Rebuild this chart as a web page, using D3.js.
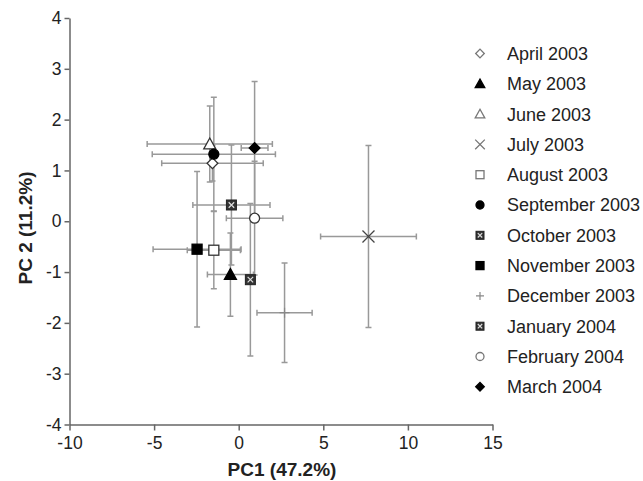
<!DOCTYPE html>
<html>
<head>
<meta charset="utf-8">
<script src="https://cdn.jsdelivr.net/npm/d3@7"></script>
<style>
  body { margin: 0; background: #fff; }
  svg { font-family: "Liberation Sans", Arial, sans-serif; }
</style>
</head>
<body>
<div id="chart"></div>
<script>
// sampling months and PCA scores (mean +/- error)
const months = ["April 2003", "May 2003", "June 2003", "July 2003", "August 2003", "September 2003",
                "October 2003", "November 2003", "December 2003", "January 2004", "February 2004", "March 2004"]
const pc1 = [-1.55, -0.49, -1.71, 7.67, -1.47, -1.47, -0.43, -2.46, 2.71, 0.69, 0.94, 0.94]
const pc2 = [1.14, -1.05, 1.52, -0.30, -0.57, 1.32, 0.32, -0.55, -1.80, -1.15, 0.06, 1.44]
const pc1Err = [3.0, 1.36, 3.7, 2.83, 1.57, 3.64, 2.28, 2.6, 1.63, 0.25, 1.67, 0.79]
const pc2Err = [0.35, 0.82, 0.75, 1.79, 0.76, 1.12, 1.18, 1.53, 0.98, 1.5, 1.12, 1.31]
const xTicks = [-10, -5, 0, 5, 10, 15]
const yTicks = [-4, -3, -2, -1, 0, 1, 2, 3, 4]

const data = months.map((m, i) => ({month: m, x: pc1[i], y: pc2[i], ex: pc1Err[i], ey: pc2Err[i]}))

// marker look for every month
const markers = {
  "April 2003": {shape: "diamond", fill: "#fff"},
  "May 2003": {shape: "triangle", fill: "#000"},
  "June 2003": {shape: "triangle", fill: "#fff"},
  "July 2003": {shape: "times"},
  "August 2003": {shape: "square", fill: "#fff"},
  "September 2003": {shape: "circle", fill: "#000"},
  "October 2003": {shape: "xsquare"},
  "November 2003": {shape: "square", fill: "#000"},
  "December 2003": {shape: "plus"},
  "January 2004": {shape: "xsquare"},
  "February 2004": {shape: "circle", fill: "#fff"},
  "March 2004": {shape: "diamond", fill: "#000"}
}

const width = 643
const height = 481

const xScale = d3.scaleLinear().domain([-10, 15]).range([69.5, 492.5])
const yScale = d3.scaleLinear().domain([-4, 4]).range([424.5, 18])

const svg = d3.select("#chart").append("svg")
  .attr("width", width)
  .attr("height", height)

svg.append("rect").attr("width", width).attr("height", height).attr("fill", "#fff")

function drawMarker(g, st, k, legend) {
  const line = legend ? "#777" : "#333"
  if (st.shape === "circle") {
    g.append("circle").attr("r", 5 * k)
      .attr("fill", st.fill).attr("stroke", st.fill === "#000" ? "#000" : line).attr("stroke-width", 1.3)
  } else if (st.shape === "square") {
    g.append("rect").attr("x", -5 * k).attr("y", -5 * k).attr("width", 10 * k).attr("height", 10 * k)
      .attr("fill", st.fill).attr("stroke", st.fill === "#000" ? "#000" : line).attr("stroke-width", 1.3)
  } else if (st.shape === "diamond") {
    g.append("rect").attr("x", -3.8 * k).attr("y", -3.8 * k).attr("width", 7.6 * k).attr("height", 7.6 * k)
      .attr("transform", "rotate(45)")
      .attr("fill", st.fill).attr("stroke", st.fill === "#000" ? "#000" : line).attr("stroke-width", 1.3)
  } else if (st.shape === "triangle") {
    const s = 6 * k
    g.append("path").attr("d", `M0,${-s}L${s},${s * 0.8}L${-s},${s * 0.8}Z`)
      .attr("fill", st.fill).attr("stroke", st.fill === "#000" ? "#000" : line).attr("stroke-width", 1.3)
  } else if (st.shape === "times") {
    const s = 6 * k
    g.append("path").attr("d", `M${-s},${-s}L${s},${s}M${-s},${s}L${s},${-s}`)
      .attr("stroke", legend ? "#777" : "#444").attr("stroke-width", 1.3).attr("fill", "none")
  } else if (st.shape === "plus") {
    const s = 5 * k
    g.append("path").attr("d", `M${-s},0L${s},0M0,${-s}L0,${s}`)
      .attr("stroke", "#888").attr("stroke-width", 1.2).attr("fill", "none")
  } else if (st.shape === "xsquare") {
    const s = 5 * k
    g.append("rect").attr("x", -s).attr("y", -s).attr("width", 2 * s).attr("height", 2 * s)
      .attr("fill", "#333").attr("stroke", "#222").attr("stroke-width", 1)
    const t = s * 0.55
    g.append("path").attr("d", `M${-t},${-t}L${t},${t}M${-t},${t}L${t},${-t}`)
      .attr("stroke", "#ddd").attr("stroke-width", 1.2)
  }
}

// axes (plain hyphen for negatives, like the original)
const fmt = d => String(d)
const xAxis = d3.axisBottom(xScale).tickValues(xTicks).tickFormat(fmt).tickSizeInner(6).tickSizeOuter(0).tickPadding(6)
const yAxis = d3.axisLeft(yScale).tickValues(yTicks).tickFormat(fmt).tickSizeInner(5).tickSizeOuter(0).tickPadding(3)

const gx = svg.append("g").attr("transform", "translate(0," + yScale(-4) + ")").call(xAxis)
const gy = svg.append("g").attr("transform", "translate(" + xScale(-10) + ",0)").call(yAxis)

for (const g of [gx, gy]) {
  g.select(".domain").attr("stroke", "#666").attr("stroke-width", 1.5)
  g.selectAll(".tick line").attr("stroke", "#666").attr("stroke-width", 1.5)
  g.selectAll(".tick text").attr("fill", "#222").style("font-size", "17.5px")
}

svg.append("text")
  .attr("x", (xScale(-10) + xScale(15)) / 2 + 1)
  .attr("y", 476)
  .attr("text-anchor", "middle")
  .style("font-size", "19px").style("font-weight", "bold").attr("fill", "#222")
  .text("PC1 (47.2%)")

svg.append("text")
  .attr("transform", "translate(32," + 228 + ") rotate(-90)")
  .attr("text-anchor", "middle")
  .style("font-size", "19px").style("font-weight", "bold").attr("fill", "#222")
  .text("PC 2 (11.2%)")

// error bars
const cap = 3
const errG = svg.append("g").attr("stroke", "#999").attr("stroke-width", 1.5).attr("fill", "none")
errG.selectAll("path.err")
  .data(data)
  .join("path")
  .attr("class", "err")
  .attr("d", d => {
    const x0 = xScale(d.x - d.ex), x1 = xScale(d.x + d.ex), cx = xScale(d.x)
    const y0 = yScale(d.y + d.ey), y1 = yScale(d.y - d.ey), cy = yScale(d.y)
    return `M${x0},${cy}H${x1}M${x0},${cy - cap}V${cy + cap}M${x1},${cy - cap}V${cy + cap}` +
           `M${cx},${y0}V${y1}M${cx - cap},${y0}H${cx + cap}M${cx - cap},${y1}H${cx + cap}`
  })

// points
svg.append("g").selectAll("g.pt")
  .data(data)
  .join("g")
  .attr("class", "pt")
  .attr("transform", d => `translate(${xScale(d.x)},${yScale(d.y)})`)
  .each(function (d) { drawMarker(d3.select(this), markers[d.month], 1, false) })

// legend
const legend = svg.append("g")
legend.selectAll("g.item")
  .data(months)
  .join("g")
  .attr("class", "item")
  .attr("transform", (d, i) => `translate(480,${53.5 + i * 30.3})`)
  .each(function (d) {
    const g = d3.select(this)
    drawMarker(g, markers[d], 0.8, true)
    g.append("text").attr("x", 27).attr("dy", "0.36em")
      .style("font-size", "18px").attr("fill", "#222").text(d)
  })
</script>
</body>
</html>
